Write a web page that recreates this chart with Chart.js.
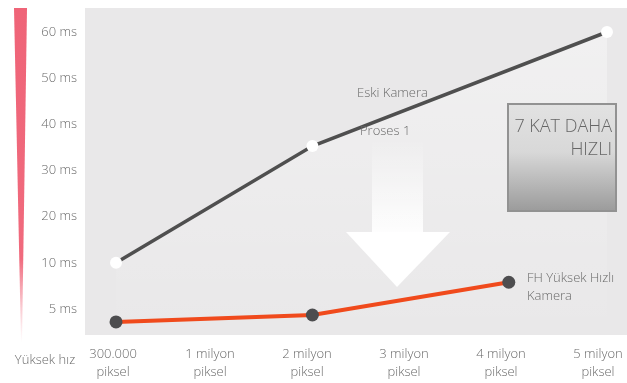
<!DOCTYPE html>
<html>
<head>
<meta charset="utf-8">
<script src="https://cdn.jsdelivr.net/npm/chart.js@4/dist/chart.umd.min.js"></script>
<style>
  html, body { margin: 0; padding: 0; background: #ffffff; }
  #wrap { width: 627px; height: 383px; position: relative; }
</style>
</head>
<body>
<div id="wrap"><canvas id="c" width="627" height="383"></canvas></div>
<script>
// ---- Data ----
const categories = [
  ['300.000', 'piksel'],
  ['1 milyon', 'piksel'],
  ['2 milyon', 'piksel'],
  ['3 milyon', 'piksel'],
  ['4 milyon', 'piksel'],
  ['5 milyon', 'piksel']
];
// y axis tick labels (evenly spaced steps, index 0..6)
const yTickLabels = ['5 ms', '10 ms', '20 ms', '30 ms', '40 ms', '50 ms', '60 ms'];
// Eski Kamera: category index and axis-step value
const eskiX = [0, 2, 5];
const eskiY = [1, 3.53, 6];
// FH Yüksek Hızlı Kamera
const fhX = [0, 2, 4];
const fhY = [-0.28, -0.13, 0.58];

const FONT = '"Open Sans", "DejaVu Sans", sans-serif';
const TXT = '#6a6a6a';

const decor = {
  id: 'decor',
  beforeDraw(chart) {
    const ctx = chart.ctx, a = chart.chartArea;
    ctx.save();
    // plot background
    ctx.fillStyle = '#e9e8e9';
    ctx.fillRect(a.left, a.top, a.right - a.left, a.bottom - a.top);
    // red wedge
    const g = ctx.createLinearGradient(0, 8, 0, 342);
    g.addColorStop(0, '#ef6478');
    g.addColorStop(0.75, '#f06a7d');
    g.addColorStop(1, 'rgba(244,140,155,0)');
    ctx.fillStyle = g;
    ctx.beginPath();
    ctx.moveTo(14, 8);
    ctx.lineTo(27, 8);
    ctx.lineTo(22, 342);
    ctx.lineTo(21, 342);
    ctx.closePath();
    ctx.fill();
    // Yüksek hız
    ctx.fillStyle = TXT;
    ctx.font = '300 13px ' + FONT;
    ctx.textAlign = 'center';
    ctx.textBaseline = 'middle';
    ctx.fillText('Yüksek hız', 45, 360);
    ctx.restore();
  },
  beforeDatasetsDraw(chart) {
    const ctx = chart.ctx;
    ctx.save();
    // arrow shaft with gradient
    const sg = ctx.createLinearGradient(0, 140, 0, 233);
    sg.addColorStop(0, 'rgba(255,255,255,0)');
    sg.addColorStop(1, 'rgba(255,255,255,0.95)');
    ctx.fillStyle = sg;
    ctx.fillRect(372, 140, 51, 93);
    // arrow head
    ctx.fillStyle = '#ffffff';
    ctx.beginPath();
    ctx.moveTo(346, 232);
    ctx.lineTo(450, 232);
    ctx.lineTo(397, 287);
    ctx.closePath();
    ctx.fill();
    ctx.restore();
  },
  afterDatasetsDraw(chart) {
    const ctx = chart.ctx;
    ctx.save();
    // box
    const bg = ctx.createLinearGradient(0, 103, 0, 212);
    bg.addColorStop(0, '#e2e2e2');
    bg.addColorStop(0.45, '#d8d8d8');
    bg.addColorStop(1, '#9a9a9a');
    ctx.fillStyle = bg;
    ctx.fillRect(507, 103, 110, 109);
    ctx.strokeStyle = '#929292';
    ctx.lineWidth = 2;
    ctx.strokeRect(508, 104, 108, 107);
    ctx.fillStyle = '#666666';
    ctx.font = '300 18px ' + FONT;
    ctx.textAlign = 'right';
    ctx.textBaseline = 'alphabetic';
    ctx.fillText('7 KAT DAHA', 612, 132);
    ctx.fillText('HIZLI', 612, 155);
    // annotations
    ctx.fillStyle = TXT;
    ctx.font = '300 13px ' + FONT;
    ctx.textAlign = 'left';
    ctx.textBaseline = 'middle';
    ctx.fillText('Eski Kamera', 357, 93);
    ctx.fillText('Proses 1', 360, 131);
    ctx.fillText('FH Yüksek Hızlı', 527, 278);
    ctx.fillText('Kamera', 527, 296);
    ctx.restore();
  }
};

new Chart(document.getElementById('c'), {
  type: 'line',
  data: {
    datasets: [
      {
        label: 'Eski Kamera',
        data: eskiX.map((x, i) => ({ x: x, y: eskiY[i] })),
        borderColor: '#4f4f4f',
        borderWidth: 3.5,
        pointRadius: 6,
        pointBackgroundColor: '#ffffff',
        pointBorderWidth: 0,
        fill: 'start',
        backgroundColor: (ctx) => {
          const ch = ctx.chart;
          const a = ch.chartArea;
          if (!a) return 'rgba(255,255,255,0.2)';
          const g = ch.ctx.createLinearGradient(0, a.top, 0, a.bottom);
          g.addColorStop(0, 'rgba(255,255,255,0.4)');
          g.addColorStop(1, 'rgba(255,255,255,0)');
          return g;
        },
        tension: 0,
        order: 2
      },
      {
        label: 'FH Yüksek Hızlı Kamera',
        data: fhX.map((x, i) => ({ x: x, y: fhY[i] })),
        borderColor: '#f04a1c',
        borderWidth: 4,
        pointRadius: 6.5,
        pointBackgroundColor: '#4d4d4f',
        pointBorderWidth: 0,
        fill: false,
        tension: 0,
        order: 1
      }
    ]
  },
  options: {
    responsive: false,
    animation: false,
    events: [],
    layout: { autoPadding: false, padding: { top: 8, right: 0, left: 0, bottom: 0 } },
    plugins: { legend: { display: false }, tooltip: { enabled: false } },
    scales: {
      x: {
        type: 'linear',
        min: -0.316,
        max: 5.204,
        display: false
      },
      xLabels: {
        type: 'linear',
        position: 'bottom',
        axis: 'x',
        min: -0.289,
        max: 5.299,
        grid: { display: false, drawTicks: false },
        border: { display: false },
        afterBuildTicks: (s) => { s.ticks = categories.map((_, i) => ({ value: i })); },
        afterFit: (s) => { s.height = 48; s.paddingLeft = 0; s.paddingRight = 0; },
        ticks: {
          autoSkip: false,
          maxRotation: 0,
          padding: 10,
          color: TXT,
          font: { family: FONT, size: 13, weight: 300, lineHeight: 1.4 },
          callback: (v) => categories[Math.round(v)]
        }
      },
      y: {
        type: 'linear',
        min: -0.563,
        max: 6.52,
        grid: { display: false, drawTicks: false },
        border: { display: false },
        afterBuildTicks: (s) => { s.ticks = yTickLabels.map((_, i) => ({ value: i })); },
        afterFit: (s) => { s.width = 85; s.paddingTop = 0; s.paddingBottom = 0; },
        ticks: {
          autoSkip: false,
          padding: 8,
          color: TXT,
          font: { family: FONT, size: 13, weight: 300 },
          callback: (v) => yTickLabels[Math.round(v)]
        }
      }
    }
  },
  plugins: [decor]
});
</script>
</body>
</html>
